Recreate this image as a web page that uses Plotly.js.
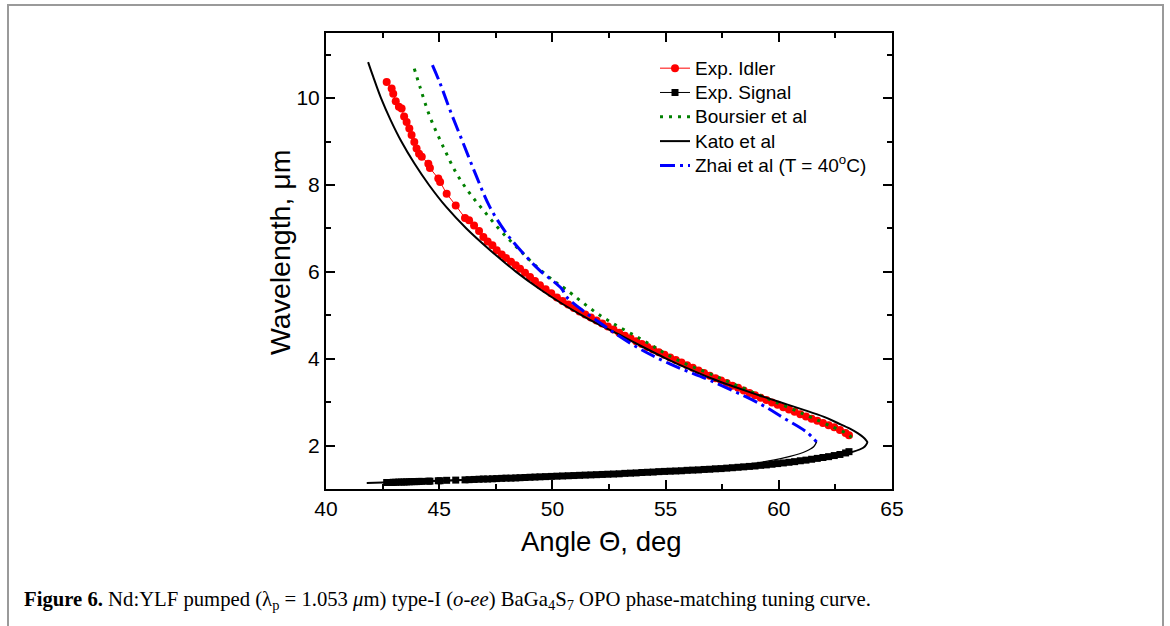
<!DOCTYPE html>
<html>
<head>
<meta charset="utf-8">
<script src="https://cdn.plot.ly/plotly-3.0.1.min.js"></script>
<style>
html,body{margin:0;padding:0;background:#fff;}
#chart{width:1170px;height:626px;}
</style>
</head>
<body>
<div id="chart"></div>
<script>
// ---- Data ----
var idlerAngle = [42.68,42.90,42.97,43.08,43.22,43.34,43.45,43.56,43.68,43.78,43.90,44.00,44.11,44.23,44.52,44.59,44.96,45.04,45.33,45.73,46.14,46.32,46.54,46.76,46.95,47.14,47.35,47.54,47.76,47.95,48.17,48.38,48.57,48.79,49.01,49.23,49.45,
  49.70,49.95,50.20,50.45,50.70,50.95,51.20,51.45,51.70,51.95,52.20,52.45,52.70,52.95,53.20,53.45,53.70,53.95,54.20,54.45,54.70,54.95,
  55.20,55.45,55.70,55.95,56.20,56.45,56.70,56.95,57.20,57.45,57.70,57.95,58.20,58.45,58.70,58.95,59.20,59.45,59.70,59.95,60.20,60.45,60.70,60.95,61.20,61.45,61.70,61.95,62.20,62.45,62.70,62.95,63.10];
var idlerWl = [10.37,10.22,10.10,9.93,9.80,9.76,9.58,9.45,9.30,9.15,8.99,8.84,8.72,8.65,8.49,8.39,8.15,8.07,7.80,7.53,7.24,7.19,7.07,6.94,6.80,6.70,6.61,6.50,6.40,6.32,6.23,6.15,6.07,5.98,5.88,5.79,5.69,
  5.60,5.51,5.41,5.33,5.25,5.17,5.09,5.02,4.95,4.88,4.81,4.74,4.67,4.60,4.53,4.47,4.40,4.34,4.27,4.21,4.15,4.09,
  4.03,3.97,3.91,3.85,3.79,3.73,3.67,3.61,3.55,3.50,3.44,3.38,3.33,3.27,3.21,3.16,3.10,3.05,2.99,2.94,2.88,2.83,2.78,2.72,2.67,2.62,2.57,2.52,2.47,2.42,2.36,2.29,2.24];
var signalAngle = idlerAngle;
var signalWl = [1.15,1.15,1.155,1.155,1.16,1.16,1.16,1.165,1.165,1.17,1.17,1.17,1.175,1.175,1.18,1.18,1.19,1.19,1.20,1.205,1.21,1.215,1.22,1.225,1.23,1.23,1.235,1.24,1.245,1.25,1.25,1.255,1.26,1.265,1.27,1.275,1.28,
  1.285,1.29,1.295,1.30,1.305,1.31,1.315,1.32,1.325,1.33,1.335,1.34,1.345,1.35,1.36,1.365,1.37,1.38,1.385,1.39,1.40,1.405,
  1.41,1.415,1.42,1.43,1.435,1.44,1.45,1.455,1.465,1.47,1.48,1.49,1.50,1.51,1.52,1.53,1.545,1.555,1.57,1.585,1.60,1.615,1.63,1.65,1.665,1.685,1.705,1.725,1.745,1.77,1.795,1.83,1.86];

var boursierAngle = [43.90,44.15,44.59,45.18,45.77,46.36,46.95,47.69,48.42,49.16,50.04,50.56,52.10,54.02,55.49,57.30,59.32,61.08,62.41,63.14,63.22];
var boursierWl    = [10.68,10.26,9.57,8.88,8.26,7.80,7.42,6.96,6.57,6.19,5.80,5.61,5.00,4.42,3.98,3.58,3.12,2.73,2.42,2.23,2.12];

var katoAngle = [41.86,42.08,42.43,42.85,43.33,43.90,44.55,45.30,46.20,47.25,48.40,49.45,50.45,51.30,52.00,53.00,54.00,55.00,56.00,57.00,58.00,59.00,60.00,61.00,62.00,62.60,63.14,63.50,63.73,63.86,63.91,63.86,63.73,63.29,62.41,61.50,60.20,58.50,57.26,55.50,54.31,52.00,50.00,48.00,46.00,44.00,42.50,41.80];
var katoWl    = [10.83,10.50,10.00,9.50,9.00,8.50,8.00,7.50,7.00,6.50,6.00,5.60,5.26,5.00,4.80,4.54,4.27,4.01,3.77,3.55,3.36,3.18,3.01,2.84,2.66,2.52,2.39,2.28,2.19,2.12,2.08,2.02,1.95,1.86,1.75,1.68,1.60,1.51,1.46,1.41,1.37,1.33,1.29,1.25,1.21,1.17,1.15,1.14];

var zhaiAngle = [44.70,45.04,45.48,46.07,46.66,47.24,47.98,48.86,49.45,50.41,50.63,52.25,53.72,55.19,56.96,59.17,60.20,61.23,61.67];
var zhaiWl    = [10.76,10.34,9.72,8.95,8.18,7.49,6.88,6.34,6.03,5.61,5.42,4.77,4.27,3.88,3.50,2.96,2.64,2.31,2.08];
var zhaiSigAngle = [61.67,61.55,61.20,60.50,59.50,58.50,57.00,55.00,52.00,49.00,46.00,44.70];
var zhaiSigWl    = [2.08,1.98,1.87,1.75,1.64,1.56,1.47,1.39,1.31,1.25,1.20,1.18];

var xTicks = [40,45,50,55,60,65];
var yTicks = [2,4,6,8,10];
var seriesNames = ['Exp. Idler','Exp. Signal','Boursier et al','Kato et al','Zhai et al (T = 40<sup>o</sup>C)'];

// ---- Plot ----
var FONT = 'Liberation Sans, Arial, sans-serif';
function lg(t){ return '<span style="font-size:19px">' + t + '</span>'; }
var traces = [
  {x: idlerAngle, y: idlerWl, name: lg(seriesNames[0]), mode: 'lines+markers',
   line: {color: '#ff0000', width: 1}, marker: {color: '#ff0000', size: 8, symbol: 'circle'}},
  {x: signalAngle, y: signalWl, name: lg(seriesNames[1]), mode: 'lines+markers',
   line: {color: '#000000', width: 1}, marker: {color: '#000000', size: 7, symbol: 'square'}},
  {x: boursierAngle, y: boursierWl, name: lg(seriesNames[2]), mode: 'lines',
   line: {color: '#008000', width: 3, dash: '3px,6px', shape: 'spline'}},
  {x: katoAngle, y: katoWl, name: lg(seriesNames[3]), mode: 'lines',
   line: {color: '#000000', width: 2, shape: 'spline'}},
  {x: zhaiAngle, y: zhaiWl, name: lg(seriesNames[4]), mode: 'lines',
   line: {color: '#0000ff', width: 3, dash: '15px,5px,3px,5px', shape: 'spline'}},
  {x: zhaiSigAngle, y: zhaiSigWl, name: 'Zhai signal', mode: 'lines', showlegend: false,
   line: {color: '#000000', width: 1.3, shape: 'spline'}}
];

var L = 326, R = 892, T = 33, B = 489, W = 1170, H = 626;
function px(x){ return (x - L) / (R - L); }
function py(y){ return (B - y) / (B - T); }

var layout = {
  width: W, height: H,
  margin: {l: L, r: W - R, t: T, b: H - B, pad: 0},
  paper_bgcolor: '#ffffff', plot_bgcolor: '#ffffff',
  font: {family: FONT, color: '#000'},
  showlegend: true,
  legend: {x: px(655), y: py(51), xanchor: 'left', yanchor: 'top',
           bgcolor: 'rgba(0,0,0,0)', borderwidth: 0,
           font: {family: FONT, size: 16.4, color: '#000'}, tracegroupgap: 0},
  xaxis: {range: [40, 65], tickvals: xTicks, ticktext: xTicks.map(String),
          ticks: 'inside', ticklen: 9, tickwidth: 2, tickcolor: '#000',
          minor: {dtick: 2.5, tick0: 40, ticks: 'inside', ticklen: 5, tickwidth: 2, tickcolor: '#000'},
          showline: true, linecolor: '#000', linewidth: 2, mirror: 'allticks',
          showgrid: false, zeroline: false,
          tickfont: {family: FONT, size: 21, color: '#000'}},
  yaxis: {range: [1, 11.5], tickvals: yTicks, ticktext: yTicks.map(String),
          ticks: 'inside', ticklen: 9, tickwidth: 2, tickcolor: '#000',
          minor: {dtick: 1, tick0: 1, ticks: 'inside', ticklen: 5, tickwidth: 2, tickcolor: '#000'},
          showline: true, linecolor: '#000', linewidth: 2, mirror: 'allticks',
          showgrid: false, zeroline: false,
          tickfont: {family: FONT, size: 21, color: '#000'}},
  shapes: [
    {type: 'rect', xref: 'paper', yref: 'paper', x0: px(8), x1: px(1163), y0: py(640), y1: py(5),
     line: {color: '#9a9a9a', width: 2}, fillcolor: 'rgba(0,0,0,0)', layer: 'below'}
  ],
  annotations: [
    {xref: 'paper', yref: 'paper', x: px(601), y: py(541), xanchor: 'center', yanchor: 'middle',
     showarrow: false, font: {family: FONT, size: 27.5, color: '#000'}, text: 'Angle Θ, deg'},
    {xref: 'paper', yref: 'paper', x: px(280), y: py(253), xanchor: 'center', yanchor: 'middle',
     showarrow: false, textangle: -90, font: {family: FONT, size: 28.5, color: '#000'}, text: 'Wavelength, μm'},
    {xref: 'paper', yref: 'paper', x: px(22), y: py(600), xanchor: 'left', yanchor: 'middle',
     showarrow: false, align: 'left',
     font: {family: 'Liberation Serif, Times New Roman, serif', size: 20.7, color: '#000'},
     text: '<b>Figure 6.</b> Nd:YLF pumped (λ<sub>p</sub> = 1.053 <i>μ</i>m) type-I (<i>o-ee</i>) BaGa<sub>4</sub>S<sub>7</sub> OPO phase-matching tuning curve.'}
  ]
};

Plotly.newPlot('chart', traces, layout, {displayModeBar: false, staticPlot: true});
</script>
</body>
</html>
